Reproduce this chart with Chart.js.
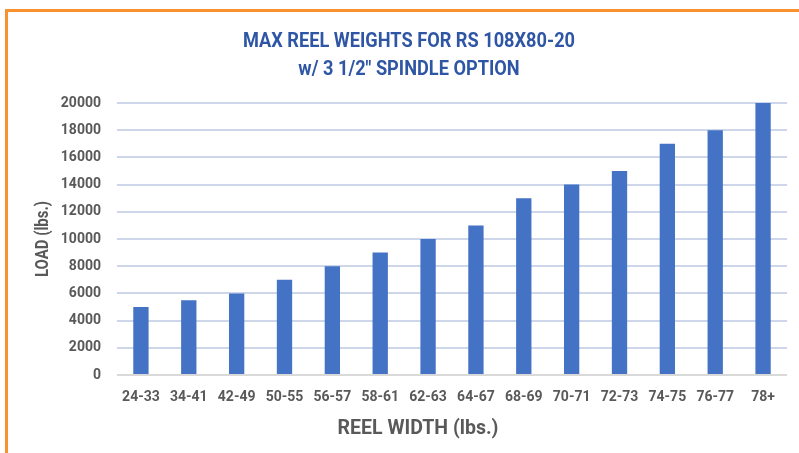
<!DOCTYPE html>
<html>
<head>
<meta charset="utf-8">
<script src="https://cdn.jsdelivr.net/npm/chart.js@4"></script>
<style>
  html, body { margin: 0; padding: 0; background: #fff; }
  #frame { position: absolute; left: 5px; top: 9px; width: 820px; height: 470px;
           border-left: 3px solid #F7922F; border-top: 3px solid #F7922F; }
  #wrap { position: absolute; left: 0; top: 0; width: 799px; height: 453px; }
</style>
</head>
<body>
<div id="frame"></div>
<div id="wrap"><canvas id="chart"></canvas></div>
<script>
const reelWidths = ['24-33', '34-41', '42-49', '50-55', '56-57', '58-61', '62-63',
  '64-67', '68-69', '70-71', '72-73', '74-75', '76-77', '78+']
const maxLoad = [5000, 5500, 6000, 7000, 8000, 9000, 10000, 11000, 13000, 14000,
  15000, 17000, 18000, 20000]
const titleLines = ['MAX REEL WEIGHTS FOR RS 108X80-20', 'w/ 3 1/2" SPINDLE OPTION']
const xTitle = 'REEL WIDTH (lbs.)'
const yTitle = 'LOAD (lbs.)'

const gray = '#595959'

// no condensed face is installed, so the titles are squeezed by hand,
// and the x title sits left of the plot centre like in the original
const textPlugin = {
  id: 'texts',
  afterDraw (chart) {
    const ctx = chart.ctx
    const area = chart.chartArea
    ctx.save()
    ctx.font = 'bold 21px Roboto'
    ctx.fillStyle = '#2E56A5'
    ctx.textAlign = 'center'
    ctx.textBaseline = 'alphabetic'
    const squeeze = 332 / ctx.measureText(titleLines[0]).width
    titleLines.forEach((line, i) => {
      ctx.save()
      ctx.translate(409, 46.7 + i * 28.3)
      ctx.scale(squeeze, 1)
      ctx.fillText(line, 0, 0)
      ctx.restore()
    })

    // rotated y title, condensed too
    ctx.font = 'bold 19px Roboto'
    ctx.fillStyle = gray
    ctx.textBaseline = 'middle'
    const ySqueeze = 76 / ctx.measureText(yTitle).width
    ctx.save()
    ctx.translate(43.5, (area.top + area.bottom) / 2)
    ctx.rotate(-Math.PI / 2)
    ctx.scale(ySqueeze, 1)
    ctx.fillText(yTitle, 0, 0)
    ctx.restore()

    ctx.font = 'bold 19.5px Roboto'
    ctx.fillText(xTitle, 418, 429.5)
    ctx.restore()
  }
}

new Chart(document.getElementById('chart').getContext('2d'), {
  type: 'bar',
  data: {
    labels: reelWidths,
    datasets: [{
      label: 'Load',
      data: maxLoad,
      backgroundColor: '#4472C4',
      borderWidth: 0,
      categoryPercentage: 1,
      barPercentage: 0.32
    }]
  },
  options: {
    responsive: true,
    maintainAspectRatio: false,
    animation: false,
    layout: { padding: { left: 31, right: 12, top: 103, bottom: 0 } },
    scales: {
      x: {
        grid: { display: false, drawTicks: false },
        border: { display: false },
        ticks: {
          color: gray,
          padding: 14,
          maxRotation: 0,
          font: { family: 'Roboto', weight: 'bold', size: 14 }
        },
        afterFit (scale) { scale.height = 78 }
      },
      y: {
        min: 0,
        max: 20000,
        border: { display: false },
        grid: {
          drawTicks: false,
          lineWidth: 2,
          color: (c) => c.tick && c.tick.value === 0 ? '#D9D9D9' : '#CED7EA'
        },
        ticks: {
          stepSize: 2000,
          color: gray,
          padding: 16,
          font: { family: 'Roboto', weight: 'bold', size: 14 },
          callback: (value) => String(value)
        },
        afterFit (scale) { scale.width = 86 }
      }
    },
    plugins: {
      legend: { display: false },
      tooltip: { enabled: false },
      title: { display: false }
    }
  },
  plugins: [textPlugin]
})
</script>
</body>
</html>
